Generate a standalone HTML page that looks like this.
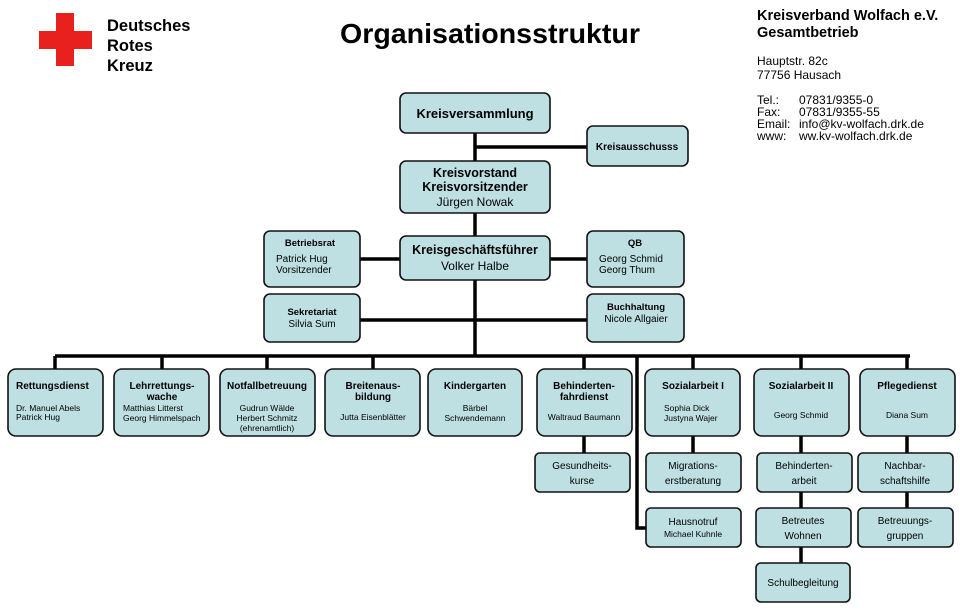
<!DOCTYPE html>
<html><head><meta charset="utf-8"><style>
html,body{margin:0;padding:0;background:#fff;width:960px;height:611px;overflow:hidden}
svg{display:block;font-family:"Liberation Sans",Arial,sans-serif}
.b{fill:#bfe0e3;stroke:#111;stroke-width:1.6}
.l{stroke:#000;stroke-width:3.5;fill:none}
.t{font-weight:bold;fill:#000;text-anchor:middle}
.n{fill:#000;text-anchor:middle}
</style></head><body>
<svg width="960" height="611" viewBox="0 0 960 611">
<!-- logo -->
<rect x="39" y="31" width="53" height="18" fill="#e8211f"/>
<rect x="56" y="13" width="18" height="53" fill="#e8211f"/>
<g font-weight="bold" font-size="16.5">
<text x="107" y="31">Deutsches</text>
<text x="107" y="51">Rotes</text>
<text x="107" y="71">Kreuz</text>
</g>
<text x="490" y="43" font-size="28" font-weight="bold" text-anchor="middle" textLength="300" lengthAdjust="spacingAndGlyphs">Organisationsstruktur</text>
<g font-size="14.5" font-weight="bold">
<text x="757" y="20">Kreisverband Wolfach e.V.</text>
<text x="757" y="37">Gesamtbetrieb</text>
</g>
<g font-size="12">
<text x="757" y="65">Hauptstr. 82c</text>
<text x="757" y="79">77756 Hausach</text>
<text x="757" y="104">Tel.:</text><text x="799" y="104">07831/9355-0</text>
<text x="757" y="116">Fax:</text><text x="799" y="116">07831/9355-55</text>
<text x="757" y="128">Email:</text><text x="799" y="128">info@kv-wolfach.drk.de</text>
<text x="757" y="140">www:</text><text x="799" y="140">ww.kv-wolfach.drk.de</text>
</g>
<!-- lines -->
<path class="l" d="M475 133V356M475 147H587M360 259H400M550 259H587M360 320H587M55 356H910"/>
<path class="l" d="M55 356V369M162 356V369M267 356V369M373 356V369M584 356V369M693 356V369M801 356V369M907 356V369"/>
<path class="l" d="M584 436V453M693 436V453M801 436V453M801 492V508M801 547V563M907 436V453M907 492V508M637 356V528H646"/>
<!-- top boxes -->
<rect class="b" x="400" y="93" width="150" height="40" rx="6"/>
<text class="t" x="475" y="118" font-size="13">Kreisversammlung</text>
<rect class="b" x="587" y="126" width="101" height="40" rx="6"/>
<text class="t" x="637" y="150" font-size="10">Kreisausschusss</text>
<rect class="b" x="400" y="161" width="150" height="52" rx="6"/>
<text class="t" x="475" y="177" font-size="12.5">Kreisvorstand</text>
<text class="t" x="475" y="191" font-size="12.5">Kreisvorsitzender</text>
<text class="n" x="475" y="206" font-size="12">Jürgen Nowak</text>
<rect class="b" x="264" y="231" width="96" height="56" rx="6"/>
<text class="t" x="310" y="246" font-size="9.5">Betriebsrat</text>
<text x="276" y="262" font-size="10">Patrick Hug</text>
<text x="276" y="273" font-size="10">Vorsitzender</text>
<rect class="b" x="400" y="236" width="150" height="44" rx="6"/>
<text class="t" x="475" y="254" font-size="12.5">Kreisgeschäftsführer</text>
<text class="n" x="475" y="270" font-size="12">Volker Halbe</text>
<rect class="b" x="587" y="231" width="97" height="56" rx="6"/>
<text class="t" x="635" y="246" font-size="9.5">QB</text>
<text x="599" y="262" font-size="10">Georg Schmid</text>
<text x="599" y="273" font-size="10">Georg Thum</text>
<rect class="b" x="264" y="294" width="96" height="48" rx="6"/>
<text class="t" x="312" y="315" font-size="9.5">Sekretariat</text>
<text class="n" x="312" y="327" font-size="10">Silvia Sum</text>
<rect class="b" x="587" y="294" width="97" height="48" rx="6"/>
<text class="t" x="636" y="310" font-size="9.5">Buchhaltung</text>
<text class="n" x="636" y="322" font-size="10">Nicole Allgaier</text>
<!-- bottom row -->
<g>
<rect class="b" x="8" y="369" width="95" height="67" rx="8"/>
<text x="16" y="389" font-size="10" font-weight="bold">Rettungsdienst</text>
<text x="16" y="411" font-size="8.5">Dr. Manuel Abels</text>
<text x="16" y="420" font-size="8.5">Patrick Hug</text>
<rect class="b" x="114" y="369" width="95" height="67" rx="8"/>
<text class="t" x="162" y="389" font-size="10">Lehrrettungs-</text>
<text class="t" x="162" y="400" font-size="10">wache</text>
<text x="123" y="411" font-size="8.5">Matthias Litterst</text>
<text x="123" y="421" font-size="8.5">Georg Himmelspach</text>
<rect class="b" x="220" y="369" width="95" height="67" rx="8"/>
<text class="t" x="267" y="389" font-size="10">Notfallbetreuung</text>
<text class="n" x="267" y="411" font-size="8.5">Gudrun Wälde</text>
<text class="n" x="267" y="421" font-size="8.5">Herbert Schmitz</text>
<text class="n" x="267" y="431" font-size="8.5">(ehrenamtlich)</text>
<rect class="b" x="325" y="369" width="95" height="67" rx="8"/>
<text class="t" x="373" y="389" font-size="10">Breitenaus-</text>
<text class="t" x="373" y="400" font-size="10">bildung</text>
<text class="n" x="373" y="420" font-size="8.5">Jutta Eisenblätter</text>
<rect class="b" x="428" y="369" width="94" height="67" rx="8"/>
<text class="t" x="475" y="389" font-size="10">Kindergarten</text>
<text class="n" x="475" y="411" font-size="8.5">Bärbel</text>
<text class="n" x="475" y="421" font-size="8.5">Schwendemann</text>
<rect class="b" x="537" y="369" width="95" height="67" rx="8"/>
<text class="t" x="584" y="389" font-size="10">Behinderten-</text>
<text class="t" x="584" y="400" font-size="10">fahrdienst</text>
<text class="n" x="584" y="420" font-size="8.5">Waltraud Baumann</text>
<rect class="b" x="645" y="369" width="95" height="67" rx="8"/>
<text class="t" x="693" y="389" font-size="10">Sozialarbeit I</text>
<text x="664" y="411" font-size="8.5">Sophia Dick</text>
<text x="664" y="421" font-size="8.5">Justyna Wajer</text>
<rect class="b" x="754" y="369" width="95" height="67" rx="8"/>
<text class="t" x="801" y="389" font-size="10">Sozialarbeit II</text>
<text class="n" x="801" y="418" font-size="8.5">Georg Schmid</text>
<rect class="b" x="860" y="369" width="95" height="67" rx="8"/>
<text class="t" x="907" y="389" font-size="10">Pflegedienst</text>
<text class="n" x="907" y="418" font-size="8.5">Diana Sum</text>
</g>
<!-- sub boxes -->
<g font-size="10">
<rect class="b" x="535" y="453" width="95" height="39" rx="5"/>
<text class="n" x="582" y="469">Gesundheits-</text><text class="n" x="582" y="484">kurse</text>
<rect class="b" x="646" y="453" width="95" height="39" rx="5"/>
<text class="n" x="693" y="469">Migrations-</text><text class="n" x="693" y="484">erstberatung</text>
<rect class="b" x="646" y="508" width="95" height="39" rx="5"/>
<text class="n" x="693" y="525">Hausnotruf</text><text class="n" x="693" y="537" font-size="8.5">Michael Kuhnle</text>
<rect class="b" x="757" y="453" width="95" height="39" rx="5"/>
<text class="n" x="804" y="469">Behinderten-</text><text class="n" x="804" y="484">arbeit</text>
<rect class="b" x="756" y="508" width="95" height="39" rx="5"/>
<text class="n" x="803" y="524">Betreutes</text><text class="n" x="803" y="539">Wohnen</text>
<rect class="b" x="756" y="563" width="94" height="39" rx="5"/>
<text class="n" x="803" y="586">Schulbegleitung</text>
<rect class="b" x="858" y="453" width="95" height="39" rx="5"/>
<text class="n" x="905" y="469">Nachbar-</text><text class="n" x="905" y="484">schaftshilfe</text>
<rect class="b" x="858" y="508" width="95" height="39" rx="5"/>
<text class="n" x="905" y="524">Betreuungs-</text><text class="n" x="905" y="539">gruppen</text>
</g>
</svg>
</body></html>
